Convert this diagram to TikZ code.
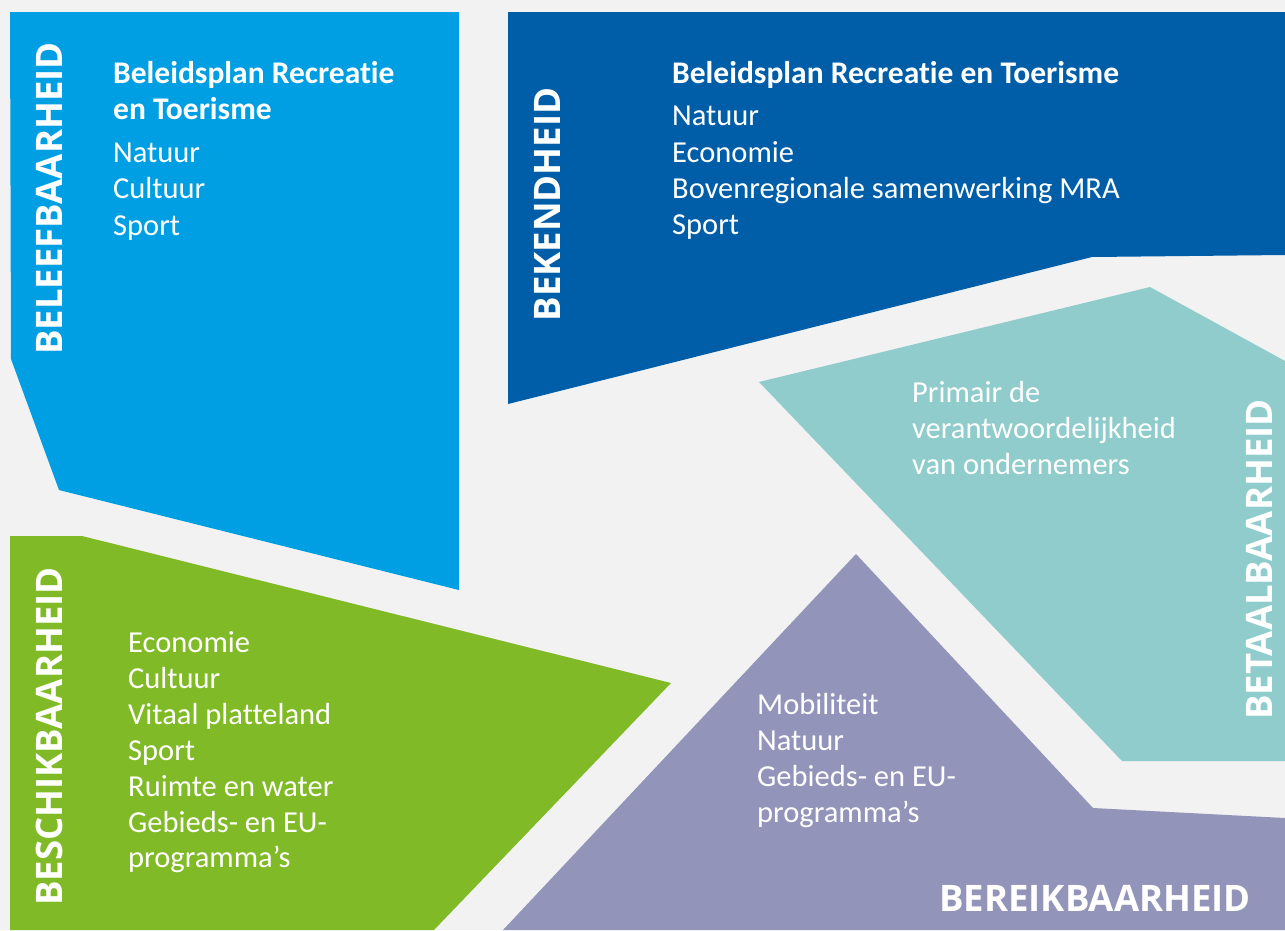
\documentclass[tikz,border=0pt]{standalone}
\usepackage{fontspec}
\setmainfont{Carlito}[Ligatures=NoCommon]
\newfontfamily\labfont{Open Sans}
\definecolor{bg}{HTML}{F1F2F1}
\definecolor{cLight}{HTML}{009FE3}
\definecolor{cDark}{HTML}{005EA8}
\definecolor{cTeal}{HTML}{8FCCCB}
\definecolor{cPurple}{HTML}{9294BA}
\definecolor{cGreen}{HTML}{80BA27}
\tikzset{
  body/.style={text=white, font=\fontsize{30.5}{36}\selectfont, inner sep=0pt, anchor=base west},
  head/.style={body, font=\fontsize{31.5}{36}\selectfont\bfseries},
  lab/.style={text=white, font=\labfont\fontsize{36.5}{40}\selectfont\bfseries, inner sep=0pt},
}
\begin{document}
\begin{tikzpicture}[x=1pt,y=-1pt]
\useasboundingbox (0,0) rectangle (1285,930);
\fill[bg] (0,0) rectangle (1285,930);
% shapes
\fill[cLight] (10,12) -- (459,12) -- (459,590) -- (59,490) -- (11,359) -- cycle;
\fill[cDark] (508,12) -- (1285,12) -- (1285,255) -- (1092,257) -- (508,404) -- cycle;
\fill[cTeal] (759,382) -- (1150,287) -- (1285,361) -- (1285,761) -- (1122,761) -- cycle;
\fill[cPurple] (856,554) -- (1093,808) -- (1285,818) -- (1285,930) -- (503,930) -- cycle;
\fill[cGreen] (10,536) -- (82,536) -- (671,683) -- (434,930) -- (10,930) -- cycle;
% vertical labels
\node[lab, rotate=90] (l1) at (49,198.5) {BELEEFBAARHEID};
\node[lab, rotate=90] (l2) at (547,204.5) {BEKENDHEID};
\node[lab, rotate=90] (l3) at (1259,559.5) {BETAALBAARHEID};
\node[lab, rotate=90] (l4) at (49,736.5) {BESCHIKBAARHEID};
\node[lab, anchor=base east] (l5) at (1251,911) {BEREIKBAARHEID};
% light blue box
\node[head] (a1) at (113,83) {Beleidsplan Recreatie};
\node[head] (a2) at (113,119) {en Toerisme};
\node[body] (a3) at (113,162) {Natuur};
\node[body] (a4) at (113,198) {Cultuur};
\node[body] (a5) at (113,235) {Sport};
% dark blue box
\node[head] (b1) at (672,83) {Beleidsplan Recreatie en Toerisme};
\node[body] (b2) at (672,125) {Natuur};
\node[body] (b3) at (672,162) {Economie};
\node[body] (b4) at (672,198) {Bovenregionale samenwerking MRA};
\node[body] (b5) at (672,234) {Sport};
% teal box
\node[body] (c1) at (912,402) {Primair de};
\node[body] (c2) at (912,438) {verantwoordelijkheid};
\node[body] (c3) at (912,474) {van ondernemers};
% green box
\node[body] (d1) at (128,652) {Economie};
\node[body] (d2) at (128,688) {Cultuur};
\node[body] (d3) at (128,724) {Vitaal platteland};
\node[body] (d4) at (128,760) {Sport};
\node[body] (d5) at (128,796) {Ruimte en water};
\node[body] (d6) at (128,832) {Gebieds- en EU-};
\node[body] (d7) at (128,867) {programma’s};
% purple box
\node[body] (e1) at (757,714) {Mobiliteit};
\node[body] (e2) at (757,750) {Natuur};
\node[body] (e3) at (757,786) {Gebieds- en EU-};
\node[body] (e4) at (757,822) {programma’s};
\end{tikzpicture}
\end{document}
